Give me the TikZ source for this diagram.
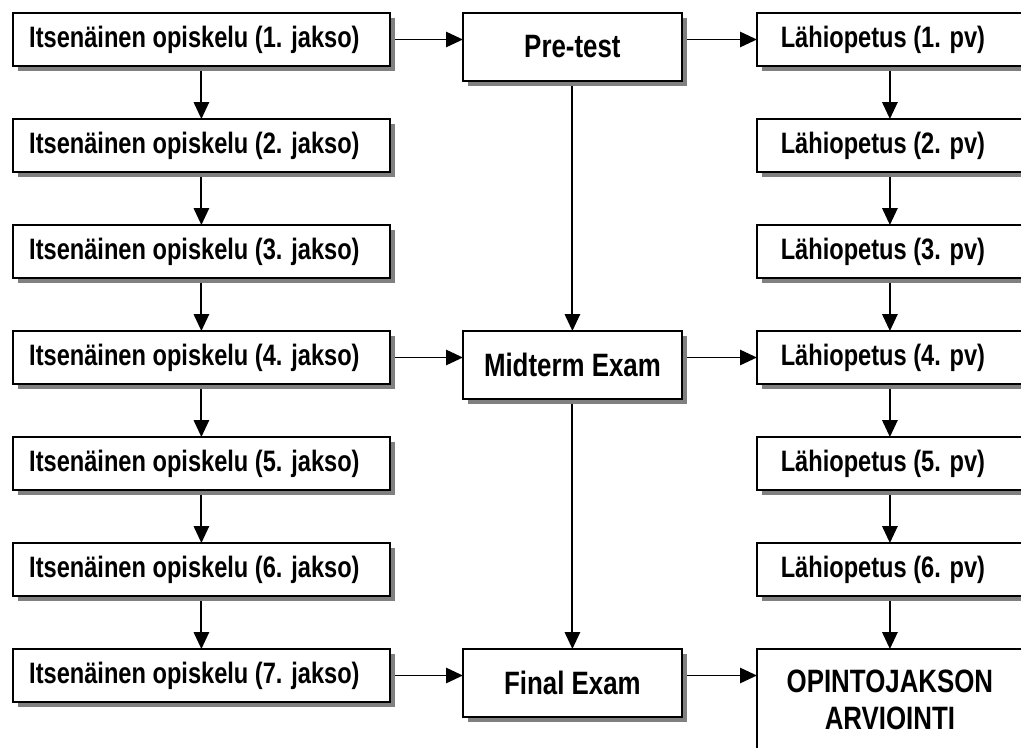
\documentclass[tikz,border=0pt]{standalone}
\usepackage{fontspec}
\setmainfont{Liberation Sans}[FakeStretch=0.8]
\usepackage{tikz}
\usetikzlibrary{
  arrows.meta,
  positioning,
  shadows
}
\definecolor{shadowgray}{RGB}{128, 128, 128}
\tikzset{
  box/.style = {
    rectangle, draw=black, line width=1.4pt,
    fill=white, minimum width=#1, minimum height=1.325cm,
    inner sep=0pt, outer sep=0pt,
    font=\bfseries\fontsize{21}{27}\selectfont,
    general shadow={fill=shadowgray, shadow xshift=0.13cm, shadow yshift=-0.13cm}
  },
  box/.default = 9.425cm,
  lefttext/.style = {execute at end node={\kern0.35cm}},
  itbox/.style = {box, lefttext},
  exambox/.style = {box=5.475cm, minimum height=1.7cm,
    font=\bfseries\fontsize{23}{27}\selectfont},
  pvbox/.style = {box=6.65cm, lefttext},
  arr/.style = {-{Triangle[length=0.42cm, width=0.38cm]}, line width=1.4pt,
    shorten <=0.13cm},
}

\begin{document}
\begin{tikzpicture}
  \useasboundingbox (0,0) rectangle (25.525,-18.675);
  \clip (0,0) rectangle (25.525,-18.675);

  % Itsenainen opiskelu (left)
  \node[itbox] (it1) at (5.035,-0.9875) {Itsenäinen opiskelu (1. jakso)};
  \node[itbox, below=1.325cm of it1] (it2) {Itsenäinen opiskelu (2. jakso)};
  \node[itbox, below=1.325cm of it2] (it3) {Itsenäinen opiskelu (3. jakso)};
  \node[itbox, below=1.325cm of it3] (it4) {Itsenäinen opiskelu (4. jakso)};
  \node[itbox, below=1.325cm of it4] (it5) {Itsenäinen opiskelu (5. jakso)};
  \node[itbox, below=1.325cm of it5] (it6) {Itsenäinen opiskelu (6. jakso)};
  \node[itbox, below=1.325cm of it6] (it7) {Itsenäinen opiskelu (7. jakso)};

  % Exams (middle)
  \node[exambox, right=1.825cm of it1.north east, anchor=north west] (pretest)
    {Pre-test};
  \node[exambox, right=1.825cm of it4.north east, anchor=north west] (midterm)
    {Midterm Exam};
  \node[exambox, right=1.825cm of it7.north east, anchor=north west] (final)
    {Final Exam};

  % Lahiopetus (right)
  \node[pvbox, right=1.875cm of pretest.north east, anchor=north west] (lp1)
    {Lähiopetus (1. pv)};
  \node[pvbox, below=1.325cm of lp1] (lp2) {Lähiopetus (2. pv)};
  \node[pvbox, below=1.325cm of lp2] (lp3) {Lähiopetus (3. pv)};
  \node[pvbox, below=1.325cm of lp3] (lp4) {Lähiopetus (4. pv)};
  \node[pvbox, below=1.325cm of lp4] (lp5) {Lähiopetus (5. pv)};
  \node[pvbox, below=1.325cm of lp5] (lp6) {Lähiopetus (6. pv)};
  \node[box=6.65cm, minimum height=2.55cm, align=center,
        font=\bfseries\fontsize{23}{26.5}\selectfont,
        below=1.325cm of lp6] (arv)
    {OPINTOJAKSON\\ARVIOINTI};

  % Arrows
  \draw[arr] (it1) -- (it2);
  \draw[arr] (it2) -- (it3);
  \draw[arr] (it3) -- (it4);
  \draw[arr] (it4) -- (it5);
  \draw[arr] (it5) -- (it6);
  \draw[arr] (it6) -- (it7);
  \draw[arr] (pretest) -- (midterm);
  \draw[arr] (midterm) -- (final);
  \draw[arr] (lp1) -- (lp2);
  \draw[arr] (lp2) -- (lp3);
  \draw[arr] (lp3) -- (lp4);
  \draw[arr] (lp4) -- (lp5);
  \draw[arr] (lp5) -- (lp6);
  \draw[arr] (lp6) -- (arv);
  \draw[arr] (it1) -- (pretest.west |- it1);
  \draw[arr] (it4) -- (midterm.west |- it4);
  \draw[arr] (it7) -- (final.west |- it7);
  \draw[arr] (pretest.east |- lp1) -- (lp1);
  \draw[arr] (midterm.east |- lp4) -- (lp4);
  \draw[arr] (final.east |- it7) -- (arv.west |- it7);

\end{tikzpicture}
\end{document}
